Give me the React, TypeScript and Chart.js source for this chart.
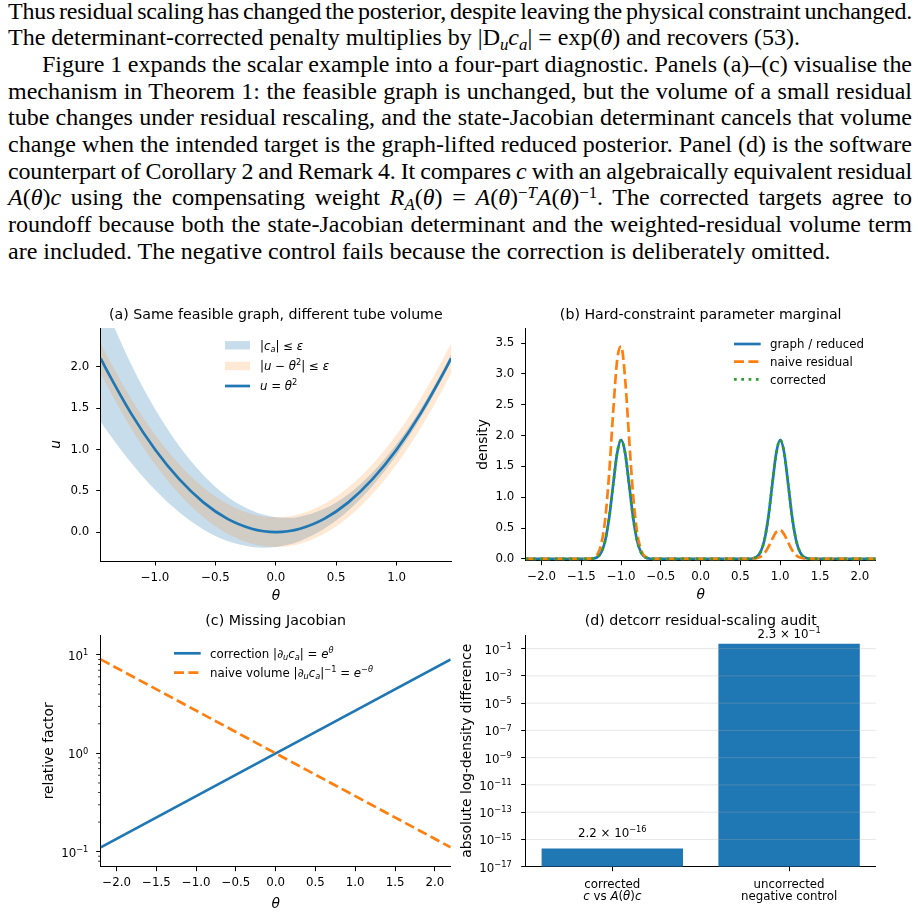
import React, { useEffect, useLayoutEffect, useRef } from 'react';
import { Chart, registerables } from 'chart.js';

Chart.register(...registerables);

const FAMILY = "'DejaVu Sans', 'Liberation Sans', sans-serif";
Chart.defaults.font.family = FAMILY;
Chart.defaults.color = '#000';

const BLUE = '#1f77b4';
const ORANGE = '#ff7f0e';
const GREEN = '#2ca02c';
const BLUE_BAND = 'rgba(31,119,180,0.25)';
const ORANGE_BAND = 'rgba(255,127,14,0.18)';

const TICK = 11.8;
const LABEL = 13.8;
const TITLE = 14.2;
const LW = 2.7;

// ---------- (a) feasible graph u = θ² with two residual tubes ----------
const thetaA = [-1.45, -1.4, -1.2, -1.0, -0.8, -0.6, -0.4, -0.2, -0.1, 0, 0.1, 0.2, 0.4, 0.6, 0.8, 1.0, 1.2, 1.4, 1.45];
const graphU = [2.1025, 1.96, 1.44, 1.0, 0.64, 0.36, 0.16, 0.04, 0.01, 0, 0.01, 0.04, 0.16, 0.36, 0.64, 1.0, 1.44, 1.96, 2.1025];
const scaledTubeLo = [1.335, 1.23, 0.842, 0.511, 0.239, 0.032, -0.109, -0.18, -0.189, -0.18, -0.153, -0.107, 0.039, 0.261, 0.559, 0.934, 1.386, 1.916, 2.06];
const scaledTubeHi = [2.87, 2.69, 2.038, 1.489, 1.041, 0.688, 0.429, 0.26, 0.209, 0.18, 0.173, 0.187, 0.281, 0.459, 0.721, 1.066, 1.494, 2.004, 2.145];
const plainTubeLo = [1.9225, 1.78, 1.26, 0.82, 0.46, 0.18, -0.02, -0.14, -0.17, -0.18, -0.17, -0.14, -0.02, 0.18, 0.46, 0.82, 1.26, 1.78, 1.9225];
const plainTubeHi = [2.2825, 2.14, 1.62, 1.18, 0.82, 0.54, 0.34, 0.22, 0.19, 0.18, 0.19, 0.22, 0.34, 0.54, 0.82, 1.18, 1.62, 2.14, 2.2825];
const ticksAx = [-1, -0.5, 0, 0.5, 1];
const ticksAy = [0, 0.5, 1, 1.5, 2];

// ---------- (b) parameter marginal densities ----------
const thetaB = [-2.2, -1.45, -1.4, -1.35, -1.3, -1.25, -1.2, -1.15, -1.1, -1.05, -1.0, -0.95, -0.9, -0.85, -0.8, -0.75, -0.7, -0.65, -0.6, -0.55,
  0.55, 0.6, 0.65, 0.7, 0.75, 0.8, 0.85, 0.9, 0.95, 1.0, 1.05, 1.1, 1.15, 1.2, 1.25, 1.3, 1.35, 1.4, 1.45, 2.2];
const graphDensity = [0, 0, 0.001, 0.006, 0.029, 0.104, 0.297, 0.674, 1.209, 1.717, 1.93, 1.717, 1.209, 0.674, 0.297, 0.104, 0.029, 0.006, 0.001, 0,
  0, 0.001, 0.006, 0.029, 0.104, 0.297, 0.674, 1.209, 1.717, 1.93, 1.717, 1.209, 0.674, 0.297, 0.104, 0.029, 0.006, 0.001, 0, 0];
const naiveDensity = [0, 0, 0.003, 0.016, 0.069, 0.239, 0.649, 1.4, 2.389, 3.227, 3.45, 2.92, 1.956, 1.037, 0.435, 0.145, 0.038, 0.008, 0.001, 0,
  0, 0, 0.002, 0.009, 0.032, 0.088, 0.19, 0.323, 0.437, 0.467, 0.395, 0.265, 0.14, 0.059, 0.02, 0.005, 0.001, 0, 0, 0];
const correctedDensity = [0, 0, 0.001, 0.006, 0.029, 0.104, 0.297, 0.674, 1.209, 1.717, 1.93, 1.717, 1.209, 0.674, 0.297, 0.104, 0.029, 0.006, 0.001, 0,
  0, 0.001, 0.006, 0.029, 0.104, 0.297, 0.674, 1.209, 1.717, 1.93, 1.717, 1.209, 0.674, 0.297, 0.104, 0.029, 0.006, 0.001, 0, 0];
const ticksBx = [-2, -1.5, -1, -0.5, 0, 0.5, 1, 1.5, 2];
const ticksBy = [0, 0.5, 1, 1.5, 2, 2.5, 3, 3.5];

// ---------- (c) Jacobian factors ----------
const thetaC = [-2.2, 0, 2.2];
const correctionFactor = [0.1108, 1, 9.025];
const naiveVolumeFactor = [9.025, 1, 0.1108];
const ticksCx = [-2, -1.5, -1, -0.5, 0, 0.5, 1, 1.5, 2];
const ticksCy = [0.1, 1, 10];
const minorCy = [0.08, 0.09, 0.2, 0.3, 0.4, 0.5, 0.6, 0.7, 0.8, 0.9, 2, 3, 4, 5, 6, 7, 8, 9];

// ---------- (d) residual-scaling audit ----------
const auditPositions = [0, 1];
const auditValues = [2.2e-16, 0.23];
const auditMantissa = ['2.2', '2.3'];
const auditExponent = ['\u221216', '\u22121'];
const ticksDy = [1e-17, 1e-15, 1e-13, 1e-11, 1e-9, 1e-7, 1e-5, 1e-3, 1e-1];

type Seg = { t: string; it?: boolean; sup?: boolean; sub?: boolean };

function segFont(s: Seg, size: number) {
  const sz = s.sup || s.sub ? size * 0.7 : size;
  return `${s.it ? 'italic ' : ''}${sz}px ${FAMILY}`;
}

function richWidth(ctx: CanvasRenderingContext2D, segs: Seg[], size: number) {
  let w = 0;
  for (const s of segs) {
    ctx.font = segFont(s, size);
    w += ctx.measureText(s.t).width;
  }
  return w;
}

function drawRich(ctx: CanvasRenderingContext2D, segs: Seg[], x: number, y: number, size: number, align: 'left' | 'center' | 'right' = 'left', color = '#000') {
  const w = richWidth(ctx, segs, size);
  let cx = align === 'left' ? x : align === 'center' ? x - w / 2 : x - w;
  ctx.save();
  ctx.fillStyle = color;
  ctx.textAlign = 'left';
  ctx.textBaseline = 'alphabetic';
  for (const s of segs) {
    ctx.font = segFont(s, size);
    const dy = s.sup ? -size * 0.4 : s.sub ? size * 0.2 : 0;
    ctx.fillText(s.t, cx, y + dy);
    cx += ctx.measureText(s.t).width;
  }
  ctx.restore();
}

function drawRotated(ctx: CanvasRenderingContext2D, segs: Seg[], x: number, y: number, size: number) {
  ctx.save();
  ctx.translate(x, y);
  ctx.rotate(-Math.PI / 2);
  drawRich(ctx, segs, 0, size * 0.35, size, 'center');
  ctx.restore();
}

function stroke(ctx: CanvasRenderingContext2D, x1: number, y1: number, x2: number, y2: number, color: string, width: number, dash: number[] = []) {
  ctx.save();
  ctx.strokeStyle = color;
  ctx.lineWidth = width;
  ctx.setLineDash(dash);
  ctx.lineCap = 'butt';
  ctx.beginPath();
  ctx.moveTo(x1, y1);
  ctx.lineTo(x2, y2);
  ctx.stroke();
  ctx.restore();
}

const fmt1 = (v: number) => (Math.abs(v) < 1e-9 ? 0 : v).toFixed(1).replace('-', '\u2212');

function powerLabel(v: number): Seg[] {
  const e = Math.round(Math.log10(v));
  return [{ t: '10' }, { t: String(e).replace('-', '\u2212'), sup: true }];
}

function axisStyle(size: number, vertical: boolean) {
  return {
    position: vertical ? 'left' : 'bottom',
    afterFit: (s: any) => {
      if (vertical) s.width = size;
      else s.height = size;
    },
    grid: { display: true, drawOnChartArea: false, drawTicks: true, tickLength: 4.5, color: '#000', tickColor: '#000', lineWidth: 1, tickWidth: 1, offset: false },
    border: { display: true, color: '#000', width: 1 },
  };
}

function linAxis(min: number, max: number, ticks: number[], size: number, vertical: boolean, labels = true) {
  return {
    type: 'linear',
    min,
    max,
    ...axisStyle(size, vertical),
    afterBuildTicks: (s: any) => {
      s.ticks = ticks.map((v) => ({ value: v }));
    },
    ticks: {
      display: labels,
      autoSkip: false,
      maxRotation: 0,
      minRotation: 0,
      padding: vertical ? 7 : 5,
      color: '#000',
      font: { size: TICK },
      callback: (v: number) => fmt1(v),
    },
  };
}

function logAxis(min: number, max: number, ticks: number[], size: number) {
  return {
    type: 'logarithmic',
    min,
    max,
    ...axisStyle(size, true),
    afterBuildTicks: (s: any) => {
      s.ticks = ticks.map((v) => ({ value: v, major: true }));
    },
    ticks: { display: false, autoSkip: false },
  };
}

function baseOptions(padTop: number, padRight: number, scales: any) {
  return {
    responsive: false,
    animation: false,
    events: [],
    layout: { padding: { top: padTop, right: padRight, left: 0, bottom: 0 } },
    plugins: { legend: { display: false }, tooltip: { enabled: false }, title: { display: false } },
    scales,
  };
}

const pts = (xs: number[], ys: number[]) => xs.map((x, i) => ({ x, y: ys[i] }));

const curve = (data: any, extra: any) => ({
  data,
  pointRadius: 0,
  borderWidth: LW,
  cubicInterpolationMode: 'monotone',
  fill: false,
  ...extra,
});

const band = (data: any, extra: any) => ({
  data,
  pointRadius: 0,
  borderWidth: 1,
  borderColor: 'rgba(0,0,0,0)',
  cubicInterpolationMode: 'monotone',
  fill: false,
  ...extra,
});

function titleAndLabels(ctx: CanvasRenderingContext2D, ca: any, title: string, titleGap: number, yLabel: Seg[], yLabelGap: number, xLabel: Seg[] | null, xLabelGap: number) {
  const cx = (ca.left + ca.right) / 2;
  drawRich(ctx, [{ t: title }], cx, ca.top - titleGap, TITLE, 'center');
  if (xLabel) drawRich(ctx, xLabel, cx, ca.bottom + xLabelGap, LABEL, 'center');
  drawRotated(ctx, yLabel, ca.left - yLabelGap, (ca.top + ca.bottom) / 2, LABEL);
}

// ---------- panel builders ----------
function buildA() {
  return {
    type: 'line',
    data: {
      datasets: [
        curve(pts(thetaA, graphU), { borderColor: BLUE }),
        band(pts(thetaA, plainTubeHi), { backgroundColor: ORANGE_BAND, fill: '+1' }),
        band(pts(thetaA, plainTubeLo), {}),
        band(pts(thetaA, scaledTubeHi), { backgroundColor: BLUE_BAND, fill: '+1' }),
        band(pts(thetaA, scaledTubeLo), {}),
      ],
    },
    options: baseOptions(33, 8, {
      x: linAxis(-1.45, 1.45, ticksAx, 44, false),
      y: linAxis(-0.35, 2.47, ticksAy, 100.7, true),
    }),
    plugins: [
      {
        id: 'decorA',
        afterDraw(chart: any) {
          const { ctx, chartArea: ca } = chart;
          titleAndLabels(ctx, ca, '(a) Same feasible graph, different tube volume', 9, [{ t: 'u', it: true }], 45.7, [{ t: '\u03b8', it: true }], 38.5);
          const lx = ca.left + 124.3;
          const tx = lx + 35;
          const rows = [ca.top + 17.3, ca.top + 38, ca.top + 58];
          ctx.save();
          ctx.fillStyle = BLUE_BAND;
          ctx.fillRect(lx, rows[0] - 4.2, 25, 8.4);
          ctx.fillStyle = ORANGE_BAND;
          ctx.fillRect(lx, rows[1] - 4.2, 25, 8.4);
          ctx.restore();
          stroke(ctx, lx, rows[2], lx + 25, rows[2], BLUE, LW);
          drawRich(ctx, [{ t: '|' }, { t: 'c', it: true }, { t: 'a', it: true, sub: true }, { t: '| \u2264 ' }, { t: '\u03b5', it: true }], tx, rows[0] + 4.2, TICK);
          drawRich(ctx, [{ t: '|' }, { t: 'u', it: true }, { t: ' \u2212 ' }, { t: '\u03b8', it: true }, { t: '2', sup: true }, { t: '| \u2264 ' }, { t: '\u03b5', it: true }], tx, rows[1] + 4.2, TICK);
          drawRich(ctx, [{ t: 'u', it: true }, { t: ' = ' }, { t: '\u03b8', it: true }, { t: '2', sup: true }], tx, rows[2] + 4.2, TICK);
        },
      },
    ],
  };
}

function buildB() {
  return {
    type: 'line',
    data: {
      datasets: [
        curve(pts(thetaB, correctedDensity), { borderColor: GREEN, borderDash: [2.7, 4.6] }),
        curve(pts(thetaB, naiveDensity), { borderColor: ORANGE, borderDash: [10, 4.4] }),
        curve(pts(thetaB, graphDensity), { borderColor: BLUE }),
      ],
    },
    options: baseOptions(33, 42.3, {
      x: linAxis(-2.2, 2.2, ticksBx, 44.3, false),
      y: linAxis(-0.03, 3.745, ticksBy, 66.7, true),
    }),
    plugins: [
      {
        id: 'decorB',
        afterDraw(chart: any) {
          const { ctx, chartArea: ca } = chart;
          titleAndLabels(ctx, ca, '(b) Hard-constraint parameter marginal', 9, [{ t: 'density' }], 44, [{ t: '\u03b8', it: true }], 38.5);
          const hx = ca.right - 141.7;
          const tx = ca.right - 105.7;
          const rows = [ca.top + 16, ca.top + 33.7, ca.top + 51.3];
          stroke(ctx, hx, rows[0], hx + 26.7, rows[0], BLUE, LW);
          stroke(ctx, hx, rows[1], hx + 26.7, rows[1], ORANGE, LW, [10, 4.4]);
          stroke(ctx, hx, rows[2], hx + 26.7, rows[2], GREEN, LW, [2.7, 4.6]);
          drawRich(ctx, [{ t: 'graph / reduced' }], tx, rows[0] + 4.2, TICK);
          drawRich(ctx, [{ t: 'naive residual' }], tx, rows[1] + 4.2, TICK);
          drawRich(ctx, [{ t: 'corrected' }], tx, rows[2] + 4.2, TICK);
        },
      },
    ],
  };
}

function buildC() {
  return {
    type: 'line',
    data: {
      datasets: [
        curve(pts(thetaC, naiveVolumeFactor), { borderColor: ORANGE, borderDash: [10, 4.4], cubicInterpolationMode: 'default', tension: 0 }),
        curve(pts(thetaC, correctionFactor), { borderColor: BLUE, cubicInterpolationMode: 'default', tension: 0 }),
      ],
    },
    options: baseOptions(30, 8.3, {
      x: linAxis(-2.2, 2.2, ticksCx, 45.3, false),
      y: logAxis(0.0704, 15.97, ticksCy, 100.7),
    }),
    plugins: [
      {
        id: 'decorC',
        afterDraw(chart: any) {
          const { ctx, chartArea: ca } = chart;
          const ys = chart.scales.y;
          titleAndLabels(ctx, ca, '(c) Missing Jacobian', 10, [{ t: 'relative factor' }], 52.4, [{ t: '\u03b8', it: true }], 41.5);
          for (const v of minorCy) {
            const py = ys.getPixelForValue(v);
            if (py >= ca.top && py <= ca.bottom) stroke(ctx, ca.left - 2.6, py, ca.left, py, '#000', 0.8);
          }
          for (const v of ticksCy) {
            drawRich(ctx, powerLabel(v), ca.left - 12.4, ys.getPixelForValue(v) + 5, TICK, 'right');
          }
          const hx = ca.left + 73.3;
          const tx = ca.left + 109.3;
          const rows = [ca.top + 18.3, ca.top + 37.7];
          stroke(ctx, hx, rows[0], hx + 26.7, rows[0], BLUE, LW);
          stroke(ctx, hx, rows[1], hx + 26.7, rows[1], ORANGE, LW, [10, 4.4]);
          drawRich(ctx, [
            { t: 'correction |\u2202' }, { t: 'u', it: true, sub: true }, { t: 'c', it: true }, { t: 'a', it: true, sub: true },
            { t: '| = ' }, { t: 'e', it: true }, { t: '\u03b8', it: true, sup: true },
          ], tx, rows[0] + 4.2, TICK);
          drawRich(ctx, [
            { t: 'naive volume |\u2202' }, { t: 'u', it: true, sub: true }, { t: 'c', it: true }, { t: 'a', it: true, sub: true },
            { t: '|' }, { t: '\u22121', sup: true }, { t: ' = ' }, { t: 'e', it: true }, { t: '\u2212', sup: true }, { t: '\u03b8', it: true, sup: true },
          ], tx, rows[1] + 4.2, TICK);
        },
      },
    ],
  };
}

function buildD() {
  return {
    type: 'bar',
    data: {
      datasets: [
        {
          data: pts(auditPositions, auditValues),
          backgroundColor: BLUE,
          borderWidth: 0,
          barPercentage: 0.8,
          categoryPercentage: 1,
        },
      ],
    },
    options: baseOptions(30, 42.3, {
      x: { ...linAxis(-0.49, 1.49, auditPositions, 45.3, false, false), offset: false },
      y: logAxis(1e-17, 1.0, ticksDy, 66.7),
    }),
    plugins: [
      {
        id: 'decorD',
        afterDatasetsDraw(chart: any) {
          const { ctx, chartArea: ca } = chart;
          const ys = chart.scales.y;
          for (const v of ticksDy) {
            const py = ys.getPixelForValue(v);
            if (py < ca.bottom - 1) stroke(ctx, ca.left, py, ca.right, py, 'rgba(176,176,176,0.3)', 1);
          }
        },
        afterDraw(chart: any) {
          const { ctx, chartArea: ca } = chart;
          const ys = chart.scales.y;
          const xs = chart.scales.x;
          titleAndLabels(ctx, ca, '(d) detcorr residual-scaling audit', 10, [{ t: 'absolute log-density difference' }], 59.7, null, 0);
          for (const v of ticksDy) {
            drawRich(ctx, powerLabel(v), ca.left - 14, ys.getPixelForValue(v) + 5, TICK, 'right');
          }
          const bars = chart.getDatasetMeta(0).data;
          bars.forEach((bar: any, i: number) => {
            const base = Math.max(bar.y - 11.5, ca.top + 3);
            drawRich(ctx, [{ t: `${auditMantissa[i]} \u00d7 10` }, { t: auditExponent[i], sup: true }], bar.x, base, TICK, 'center');
          });
          const x0 = xs.getPixelForValue(auditPositions[0]);
          const x1 = xs.getPixelForValue(auditPositions[1]);
          const l1 = ca.bottom + 21.3;
          const l2 = ca.bottom + 33.3;
          drawRich(ctx, [{ t: 'corrected' }], x0, l1, TICK, 'center');
          drawRich(ctx, [{ t: 'c', it: true }, { t: ' vs ' }, { t: 'A', it: true }, { t: '(' }, { t: '\u03b8', it: true }, { t: ')' }, { t: 'c', it: true }], x0, l2, TICK, 'center');
          drawRich(ctx, [{ t: 'uncorrected' }], x1, l1, TICK, 'center');
          drawRich(ctx, [{ t: 'negative control' }], x1, l2, TICK, 'center');
        },
      },
    ],
  };
}

function Panel({ left, top, width, height, build }: { left: number; top: number; width: number; height: number; build: () => any }) {
  const ref = useRef<HTMLCanvasElement>(null);
  useEffect(() => {
    const chart = new Chart(ref.current as HTMLCanvasElement, build() as any);
    return () => chart.destroy();
  }, [build]);
  return <canvas ref={ref} width={width} height={height} style={{ position: 'absolute', left, top, width, height }} />;
}

// ---------- paragraph ----------
const I = ({ children }: { children: React.ReactNode }) => <i>{children}</i>;
const Sub = ({ children }: { children: React.ReactNode }) => (
  <span style={{ fontSize: '0.7em', position: 'relative', top: '0.28em' }}>{children}</span>
);
const Sup = ({ children }: { children: React.ReactNode }) => (
  <span style={{ fontSize: '0.7em', position: 'relative', top: '-0.45em' }}>{children}</span>
);

type TextLine = { body: React.ReactNode; last?: boolean; indent?: boolean };

const textLines: TextLine[] = [
  { body: 'Thus residual scaling has changed the posterior, despite leaving the physical constraint unchanged.' },
  {
    body: (
      <>
        The determinant-corrected penalty multiplies by |D<Sub><I>u</I></Sub><I>c</I><Sub><I>a</I></Sub>| = exp(<I>θ</I>) and recovers (53).
      </>
    ),
    last: true,
  },
  { body: 'Figure 1 expands the scalar example into a four-part diagnostic. Panels (a)–(c) visualise the', indent: true },
  { body: 'mechanism in Theorem 1: the feasible graph is unchanged, but the volume of a small residual' },
  { body: 'tube changes under residual rescaling, and the state-Jacobian determinant cancels that volume' },
  { body: 'change when the intended target is the graph-lifted reduced posterior. Panel (d) is the software' },
  {
    body: (
      <>
        counterpart of Corollary 2 and Remark 4. It compares <I>c</I> with an algebraically equivalent residual
      </>
    ),
  },
  {
    body: (
      <>
        <I>A</I>(<I>θ</I>)<I>c</I> using the compensating weight <I>R</I><Sub><I>A</I></Sub>(<I>θ</I>) = <I>A</I>(<I>θ</I>)<Sup>−<I>T</I></Sup><I>A</I>(<I>θ</I>)<Sup>−1</Sup>. The corrected targets agree to
      </>
    ),
  },
  { body: 'roundoff because both the state-Jacobian determinant and the weighted-residual volume term' },
  { body: 'are included. The negative control fails because the correction is deliberately omitted.', last: true },
];

const TEXT_LEFT = 8;
const TEXT_WIDTH = 904;
const LINE_H = 26.67;
const TEXT_TOP = -2.5;
const INDENT = 34;
const TEXT_SIZE = 24;

// One typeset line: fills the measure by adjusting word spaces; overfull lines
// are tightened partly through the letter spacing so the gaps stay readable.
function TypesetLine({ line, index }: { line: TextLine; index: number }) {
  const ref = useRef<HTMLSpanElement>(null);
  useLayoutEffect(() => {
    const el = ref.current;
    if (!el) return;
    const fit = () => {
      el.style.wordSpacing = '0px';
      el.style.letterSpacing = '0px';
      if (line.last) return;
      const target = TEXT_WIDTH - (line.indent ? INDENT : 0);
      const text = el.textContent || '';
      let natural = el.getBoundingClientRect().width;
      if (natural > target) {
        el.style.letterSpacing = `${((target - natural) * 0.55) / text.length}px`;
        natural = el.getBoundingClientRect().width;
      }
      const spaces = (text.match(/ /g) || []).length;
      if (spaces > 0) el.style.wordSpacing = `${(target - natural) / spaces}px`;
    };
    fit();
    if ((document as any).fonts && (document as any).fonts.ready) (document as any).fonts.ready.then(fit);
  }, [line]);
  return (
    <div
      style={{
        position: 'absolute',
        left: TEXT_LEFT + (line.indent ? INDENT : 0),
        top: TEXT_TOP + index * LINE_H,
        height: LINE_H,
        lineHeight: `${LINE_H}px`,
        fontFamily: "'Liberation Serif', serif",
        fontSize: TEXT_SIZE,
        color: '#000',
        whiteSpace: 'nowrap',
      }}
    >
      <span ref={ref}>{line.body}</span>
    </div>
  );
}

export default function App() {
  return (
    <div style={{ position: 'absolute', left: 0, top: 0, width: 918, height: 912, background: '#fff', overflow: 'hidden' }}>
      {textLines.map((ln, i) => (
        <TypesetLine key={i} line={ln} index={i} />
      ))}
      <Panel left={0} top={295} width={459} height={310} build={buildA} />
      <Panel left={459} top={295} width={459} height={310} build={buildB} />
      <Panel left={0} top={605} width={459} height={307} build={buildC} />
      <Panel left={459} top={605} width={459} height={307} build={buildD} />
    </div>
  );
}
